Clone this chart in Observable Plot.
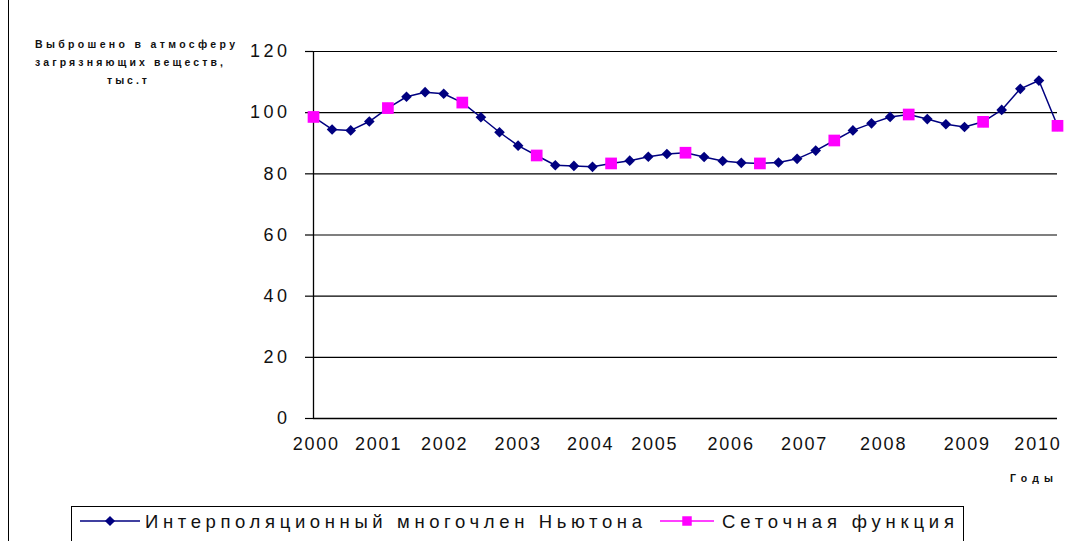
<!DOCTYPE html>
<html>
<head>
<meta charset="utf-8">
<script src="https://cdn.jsdelivr.net/npm/d3@7"></script>
<script src="https://cdn.jsdelivr.net/npm/@observablehq/plot@0.6"></script>
<style>
  html, body { margin: 0; padding: 0; background: #fff; }
  #wrap { position: relative; width: 1067px; height: 541px; overflow: hidden; background: #fff; }
  #chart { position: absolute; left: 0; top: 0; }
  #overlay { position: absolute; left: 0; top: 0; pointer-events: none; }
</style>
</head>
<body>
<div id="wrap">
  <div id="chart"></div>
  <svg id="overlay" width="1067" height="541"></svg>
</div>
<script>
// ---- data ----
// Newton interpolation polynomial, evaluated at quarter steps (41 points, 2000..2010)
const newtonValues = [
  98.6, 94.5, 94.2, 97.1, 101.5, 105.2, 106.7, 106.2, 103.3, 98.5,
  93.6, 89.2, 86.0, 82.8, 82.6, 82.3, 83.4, 84.3, 85.6, 86.5,
  86.9, 85.5, 84.2, 83.6, 83.4, 83.7, 84.9, 87.6, 90.9, 94.2,
  96.5, 98.6, 99.4, 97.9, 96.2, 95.3, 97.0, 100.9, 107.8, 110.5,
  95.7
];
// Grid function (yearly nodes)
const gridValues = [98.6, 101.5, 103.3, 86.0, 83.4, 86.9, 83.4, 90.9, 99.4, 97.0, 95.7];
const stepsPerNode = 4;
// Category-axis tick labels and where they sit (in point-index units)
const yearLabels = ["2000","2001","2002","2003","2004","2005","2006","2007","2008","2009","2010"];
const yearTickPos = [0.15, 3.5, 7.05, 11.0, 14.9, 18.35, 22.45, 26.4, 30.65, 35.15, 38.95];
const yTicks = [0, 20, 40, 60, 80, 100, 120];

const seriesNames = ["Интерполяционный многочлен Ньютона", "Сеточная функция"];
const yTitleLines = ["Выброшено в атмосферу", "загрязняющих веществ,", "тыс.т"];
const xTitle = "Годы";

const newtonData = newtonValues.map((v, i) => ({i, v}));
const gridData = gridValues.map((v, k) => ({i: k * stepsPerNode, v}));

const NAVY = "#000080", PINK = "#FF00FF";

const chart = Plot.plot({
  width: 1067,
  height: 460,
  marginLeft: 313,
  marginRight: 10,
  marginTop: 51,
  marginBottom: 42,
  x: {domain: [0, newtonValues.length - 1]},
  y: {domain: [0, 120]},
  style: {fontFamily: "'Liberation Sans', Arial, sans-serif", fontSize: "18px", color: "#111", background: "transparent", overflow: "visible"},
  marks: [
    Plot.ruleY(yTicks.filter(d => d > 0), {stroke: "#000", strokeWidth: 1.2}),
    Plot.ruleY([0], {stroke: "#000", strokeWidth: 1.3}),
    Plot.ruleX([0], {stroke: "#000", strokeWidth: 1.3}),
    Plot.axisY(yTicks, {tickSize: 8, tickPadding: 15, tickFormat: d => String(d), label: null, stroke: "#000", strokeWidth: 1.2, className: "yax"}),
    Plot.axisX(yearTickPos, {tickSize: 0, tickPadding: 19, label: null, tickFormat: d => yearLabels[yearTickPos.indexOf(d)], className: "xax"}),
    Plot.line(newtonData, {x: "i", y: "v", stroke: NAVY, strokeWidth: 1.5}),
    Plot.dot(newtonData, {x: "i", y: "v", symbol: "diamond2", r: 4.8, fill: NAVY, stroke: "none"}),
    Plot.dot(gridData, {x: "i", y: "v", symbol: "square", r: 6.6, fill: PINK, stroke: "none"})
  ]
});
document.getElementById("chart").appendChild(chart);
d3.select(chart).selectAll(".yax text").style("letter-spacing", "3.5px");
d3.select(chart).selectAll(".xax text").style("letter-spacing", "1.8px");

// ---- overlay: chart border, titles, legend ----
const ov = d3.select("#overlay");
const ff = "'Liberation Sans', Arial, sans-serif";
ov.append("line").attr("x1", 8.5).attr("x2", 8.5).attr("y1", 0).attr("y2", 541).attr("stroke", "#000").attr("stroke-width", 1);

const titleSpec = [{x: 35, w: 200, y: 48}, {x: 35, w: 188, y: 66}, {x: 107, w: 40, y: 84}];
yTitleLines.forEach((t, k) => {
  ov.append("text").attr("x", titleSpec[k].x).attr("y", titleSpec[k].y)
    .attr("textLength", titleSpec[k].w).attr("lengthAdjust", "spacing")
    .attr("font-family", ff).attr("font-size", 10.5).attr("font-weight", "bold").attr("fill", "#111").text(t);
});
ov.append("text").attr("x", 1010).attr("y", 482).attr("textLength", 43).attr("lengthAdjust", "spacing")
  .attr("font-family", ff).attr("font-size", 10.5).attr("font-weight", "bold").attr("fill", "#111").text(xTitle);

// legend
ov.append("rect").attr("x", 71.5).attr("y", 506.5).attr("width", 892).attr("height", 60)
  .attr("fill", "#fff").attr("stroke", "#000").attr("stroke-width", 1);
const ly = 521;
ov.append("line").attr("x1", 80).attr("x2", 140).attr("y1", ly).attr("y2", ly).attr("stroke", NAVY).attr("stroke-width", 1.5);
ov.append("path").attr("d", d3.symbol(d3.symbolDiamond2, 66)()).attr("transform", `translate(110,${ly})`).attr("fill", NAVY);
ov.append("text").attr("x", 145).attr("y", ly + 6.5).attr("textLength", 497).attr("lengthAdjust", "spacing")
  .attr("font-family", ff).attr("font-size", 18.5).attr("fill", "#111").text(seriesNames[0]);
ov.append("line").attr("x1", 660).attr("x2", 714).attr("y1", ly).attr("y2", ly).attr("stroke", PINK).attr("stroke-width", 1.5);
ov.append("path").attr("d", d3.symbol(d3.symbolSquare, 90)()).attr("transform", `translate(687,${ly})`).attr("fill", PINK);
ov.append("text").attr("x", 722).attr("y", ly + 6.5).attr("textLength", 232).attr("lengthAdjust", "spacing")
  .attr("font-family", ff).attr("font-size", 18.5).attr("fill", "#111").text(seriesNames[1]);
</script>
</body>
</html>
